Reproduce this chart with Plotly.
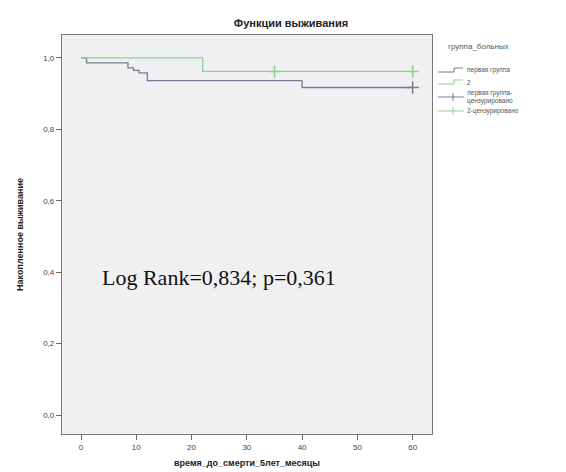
import plotly.graph_objects as go

# Kaplan-Meier step data (months, cumulative survival)
times_g1 = [0, 1, 8.5, 9.5, 10.5, 12, 40, 60]
surv_g1 = [1.0, 0.986, 0.972, 0.965, 0.958, 0.936, 0.917, 0.917]
times_g2 = [0, 22, 60]
surv_g2 = [1.0, 0.962, 0.962]

cens_g1_t = [60]
cens_g1_s = [0.917]
cens_g2_t = [35, 60]
cens_g2_s = [0.962, 0.962]

x_ticks = [0, 10, 20, 30, 40, 50, 60]
y_ticks = [0.0, 0.2, 0.4, 0.6, 0.8, 1.0]
y_ticktext = ["0,0", "0,2", "0,4", "0,6", "0,8", "1,0"]

legend_title = "группа_больных"
legend_labels = ["первая группа", "2", "первая группа-<br>цензурировано", "2-цензурировано"]

c1 = "#737c93"
c2 = "#8fcf8f"

L, R, T, B = 54, 142, 27, 46
W, H = 566, 472
PW, PH = W - L - R, H - T - B


def px(x):
    return (x - L) / PW


def py(y):
    return (H - B - y) / PH


fig = go.Figure()
fig.add_trace(go.Scatter(x=times_g1, y=surv_g1, mode="lines", line_shape="hv",
                         line=dict(color=c1, width=1.3), name=legend_labels[0]))
fig.add_trace(go.Scatter(x=times_g2, y=surv_g2, mode="lines", line_shape="hv",
                         line=dict(color=c2, width=1.3), name=legend_labels[1]))
fig.add_trace(go.Scatter(x=cens_g1_t, y=cens_g1_s, mode="markers",
                         marker=dict(symbol="cross-thin", size=9, line=dict(color=c1, width=1.5)),
                         name=legend_labels[2]))
fig.add_trace(go.Scatter(x=cens_g2_t, y=cens_g2_s, mode="markers",
                         marker=dict(symbol="cross-thin", size=9, line=dict(color=c2, width=1.5)),
                         name=legend_labels[3]))

fig.add_annotation(text="Log Rank=0,834; p=0,361", xref="paper", yref="paper",
                   x=0.103, y=0.392, xanchor="left", yanchor="middle", showarrow=False,
                   font=dict(family="Liberation Serif, Times New Roman, serif", size=22, color="#111"))

# compact legend (SPSS style)
fig.add_annotation(text=legend_title, xref="paper", yref="paper", x=px(438), y=py(38),
                   xanchor="left", yanchor="middle", showarrow=False,
                   font=dict(size=8, color="#555"))
leg_y = [62, 74, 89, 103]
leg_col = [c1, c2, c1, c2]
for i, (lab, yy, col) in enumerate(zip(legend_labels, leg_y, leg_col)):
    fig.add_annotation(text=lab, xref="paper", yref="paper", x=px(457), y=py(yy),
                       xanchor="left", yanchor="middle", showarrow=False,
                       font=dict(size=6.5, color="#555"))
    if i < 2:
        path = (f"M {px(430)} {py(yy + 2)} L {px(446)} {py(yy + 2)} "
                f"L {px(446)} {py(yy - 2)} L {px(455)} {py(yy - 2)}")
        fig.add_shape(type="path", path=path, xref="paper", yref="paper",
                      line=dict(color=col, width=1))
    else:
        fig.add_shape(type="line", xref="paper", yref="paper", x0=px(430), x1=px(456),
                      y0=py(yy), y1=py(yy), line=dict(color=col, width=1))
        fig.add_shape(type="line", xref="paper", yref="paper", x0=px(445), x1=px(445),
                      y0=py(yy - 4), y1=py(yy + 4), line=dict(color=col, width=1))

fig.update_layout(
    width=W, height=H,
    margin=dict(l=L, r=R, t=T, b=B),
    paper_bgcolor="white", plot_bgcolor="#f0f0f2",
    font=dict(family="Liberation Sans, Arial, sans-serif", size=8, color="#444"),
    title=dict(text="Функции выживания", x=0.5, xref="container", xanchor="center",
               y=1 - 15 / 472, yref="container", yanchor="middle",
               font=dict(size=11, color="#222", weight="bold")),
    showlegend=False,
)
fig.update_xaxes(range=[-3.44, 63.5], tickvals=x_ticks, ticks="outside", ticklen=5,
                 tickcolor="#666", showgrid=False, zeroline=False, showline=True,
                 linecolor="#777", linewidth=1.2, mirror=True,
                 title=dict(text="время_до_смерти_5лет_месяцы", standoff=8,
                            font=dict(size=9, color="#222", weight="bold")))
fig.update_yaxes(range=[-0.053, 1.064], tickvals=y_ticks, ticktext=y_ticktext, ticks="outside",
                 ticklen=5, tickcolor="#666", showgrid=False, zeroline=False, showline=True,
                 linecolor="#777", linewidth=1.2, mirror=True,
                 title=dict(text="Накопленное выживание", standoff=18,
                            font=dict(size=9, color="#222", weight="bold")))

fig.write_html("out.html")
